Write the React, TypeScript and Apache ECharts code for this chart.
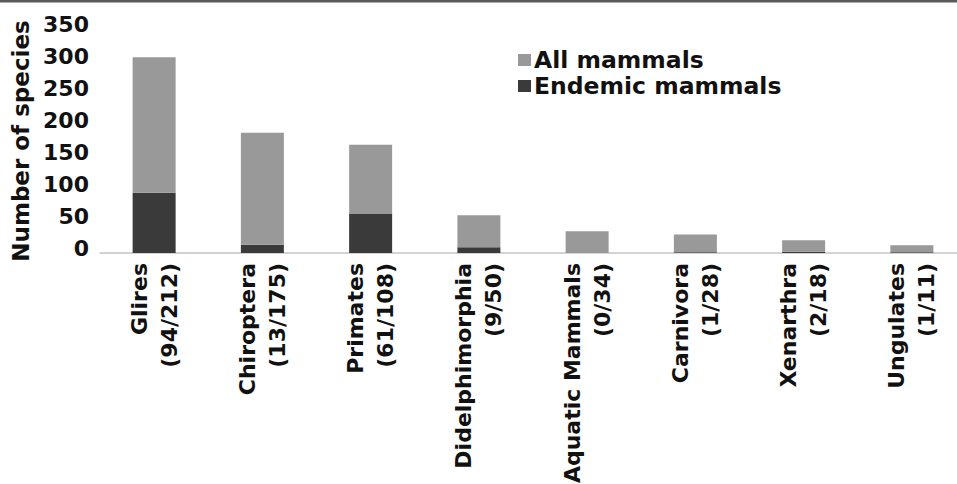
import React, { useEffect, useRef } from "react";
import * as echarts from "echarts";

const categories = ["Glires", "Chiroptera", "Primates", "Didelphimorphia", "Aquatic Mammals", "Carnivora", "Xenarthra", "Ungulates"];
const endemic = [94, 13, 61, 9, 0, 1, 2, 1];
const nonEndemic = [212, 175, 108, 50, 34, 28, 18, 11];
const yTicks = { min: 0, max: 350, interval: 50 };

const FONT = "'DejaVu Sans', 'Liberation Sans', sans-serif";

export default function App() {
  const ref = useRef<HTMLDivElement>(null);
  useEffect(() => {
    if (!ref.current) return;
    const chart = echarts.init(ref.current, undefined, { renderer: "svg" });
    const labels = categories.map((c, i) => `${c}\n(${endemic[i]}/${nonEndemic[i]})`);
    chart.setOption({
      animation: false,
      backgroundColor: "#ffffff",
      textStyle: { fontFamily: FONT },
      graphic: [
        { type: "rect", left: 0, top: 0, shape: { width: 957, height: 2.5 }, style: { fill: "#5a5a5a" } },
      ],
      legend: {
        left: 518,
        top: 48,
        orient: "vertical",
        padding: 0,
        itemGap: 2,
        itemWidth: 13,
        itemHeight: 12,
        icon: "rect",
        data: ["All mammals", "Endemic mammals"],
        textStyle: { fontFamily: FONT, fontWeight: "bold", fontSize: 23.5, color: "#111", lineHeight: 23, padding: [0, 0, 0, -2] },
      },
      grid: { left: 100, right: -9, top: 29, bottom: 231, outerBoundsMode: "none", containLabel: false },
      xAxis: {
        type: "category",
        data: labels,
        axisLine: { lineStyle: { color: "#c4c4c4", width: 1.5 } },
        axisTick: { show: false },
        axisLabel: {
          interval: 0,
          rotate: 90,
          margin: 10,
          align: "right",
          verticalAlign: "middle",
          fontFamily: FONT,
          fontWeight: "bold",
          fontSize: 22,
          lineHeight: 30,
          color: "#111",
        },
      },
      yAxis: {
        type: "value",
        min: yTicks.min,
        max: yTicks.max,
        interval: yTicks.interval,
        name: "Number of species",
        nameLocation: "middle",
        nameRotate: 90,
        nameGap: 66,
        nameTextStyle: { fontFamily: FONT, fontWeight: "bold", fontSize: 23, color: "#111" },
        splitLine: { show: false },
        axisLine: { show: false },
        axisTick: { show: false },
        axisLabel: {
          margin: 11,
          fontFamily: FONT,
          fontWeight: "bold",
          fontSize: 22,
          color: "#111",
          verticalAlign: "bottom",
          lineHeight: 10,
        },
      },
      series: [
        {
          name: "Endemic mammals",
          type: "bar",
          stack: "total",
          barWidth: 43,
          data: endemic,
          itemStyle: { color: "#3a3a3a" },
        },
        {
          name: "All mammals",
          type: "bar",
          stack: "total",
          barWidth: 43,
          data: nonEndemic,
          itemStyle: { color: "#999999" },
        },
      ],
    });
    return () => chart.dispose();
  }, []);
  return <div ref={ref} style={{ width: 957, height: 484, position: "absolute", left: 0, top: 0 }} />;
}
